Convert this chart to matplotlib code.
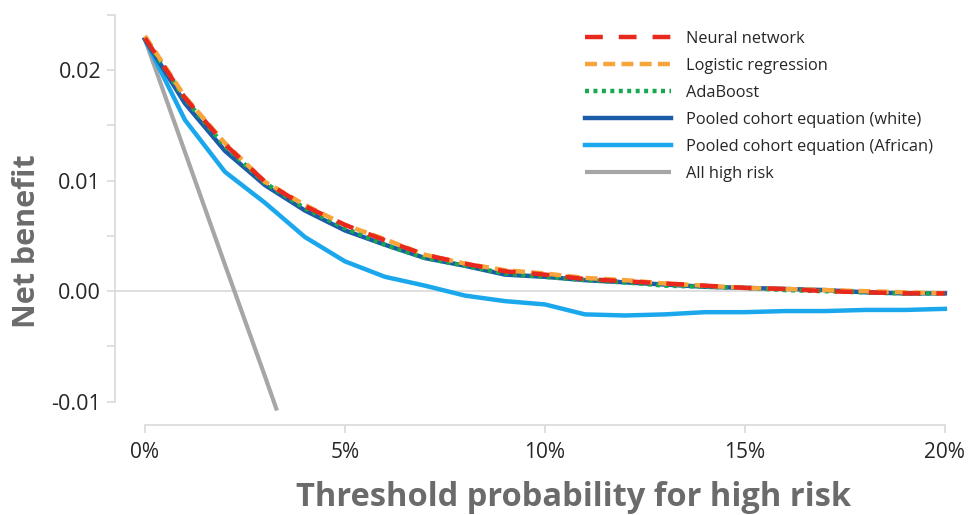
import matplotlib
matplotlib.use("Agg")
import matplotlib.pyplot as plt
from matplotlib.ticker import FuncFormatter, MultipleLocator

thresholds = [0.00, 0.01, 0.02, 0.03, 0.04, 0.05, 0.06, 0.07, 0.08, 0.09, 0.10,
              0.11, 0.12, 0.13, 0.14, 0.15, 0.16, 0.17, 0.18, 0.19, 0.20]

neural_network = [0.0229, 0.0175, 0.0133, 0.0099, 0.0077, 0.0060, 0.0046, 0.0033, 0.0025, 0.0018, 0.0015,
                  0.0011, 0.0009, 0.0007, 0.0005, 0.0003, 0.0002, 0.0000, -0.0001, -0.0002, -0.0002]
logistic_regression = [0.0231, 0.0176, 0.0134, 0.0099, 0.0078, 0.0060, 0.0047, 0.0033, 0.0025, 0.0019, 0.0016,
                       0.0012, 0.0010, 0.0007, 0.0005, 0.0003, 0.0002, 0.0001, 0.0000, -0.0001, -0.0002]
adaboost = [0.0229, 0.0174, 0.0131, 0.0098, 0.0075, 0.0057, 0.0042, 0.0030, 0.0023, 0.0016, 0.0013,
            0.0010, 0.0008, 0.0005, 0.0004, 0.0003, 0.0001, 0.0000, -0.0001, -0.0002, -0.0002]
pce_white = [0.0228, 0.0170, 0.0127, 0.0096, 0.0073, 0.0055, 0.0042, 0.0030, 0.0023, 0.0015, 0.0013,
             0.0010, 0.0008, 0.0006, 0.0004, 0.0003, 0.0002, 0.0001, -0.0001, -0.0002, -0.0002]
pce_african = [0.0228, 0.0155, 0.0108, 0.0080, 0.0049, 0.0027, 0.0013, 0.0005, -0.0004, -0.0009, -0.0012,
               -0.0021, -0.0022, -0.0021, -0.0019, -0.0019, -0.0018, -0.0018, -0.0017, -0.0017, -0.0016]

all_high_risk_x = [0.00, 0.01, 0.02, 0.03, 0.033]
all_high_risk_y = [0.0228, 0.0126, 0.0024, -0.0077, -0.0108]

series_labels = ["Neural network", "Logistic regression", "AdaBoost",
                 "Pooled cohort equation (white)", "Pooled cohort equation (African)",
                 "All high risk"]

x_ticks = [0.00, 0.05, 0.10, 0.15, 0.20]
y_ticks = [-0.01, 0.00, 0.01, 0.02]

plt.rcParams['font.family'] = ['Open Sans', 'DejaVu Sans']

fig = plt.figure(figsize=(9.74, 5.15), dpi=100)
ax = fig.add_axes([0.118, 0.175, 0.855, 0.796])

ax.axhline(0, color='#d9d9d9', lw=1.2, zorder=1)

l_gray, = ax.plot(all_high_risk_x, all_high_risk_y, color='#a6a6a6', lw=3, zorder=2,
                  solid_capstyle='butt')
l_af, = ax.plot(thresholds, pce_african, color='#1aa7ec', lw=3.2, zorder=3)
l_wh, = ax.plot(thresholds, pce_white, color='#1b5ca8', lw=3.2, zorder=4)
l_ada, = ax.plot(thresholds, adaboost, color='#17a850', lw=3.2, ls=(0, (0.9, 1.0)), zorder=5)
l_lr, = ax.plot(thresholds, logistic_regression, color='#f8a43a', lw=3.2, ls=(0, (2.7, 1.4)), zorder=6)
l_nn, = ax.plot(thresholds, neural_network, color='#e8281c', lw=3.2, ls=(0, (4.0, 3.6)), zorder=7)

ax.set_xlim(-0.0075, 0.2007)
ax.set_ylim(-0.0121, 0.025)

for s in ['top', 'right']:
    ax.spines[s].set_visible(False)
for s in ['left', 'bottom']:
    ax.spines[s].set_color('#d9d9d9')
    ax.spines[s].set_linewidth(1.2)
ax.spines['left'].set_bounds(-0.01, 0.025)
ax.spines['bottom'].set_bounds(0, 0.20)

ax.set_xticks(x_ticks)
ax.xaxis.set_major_formatter(FuncFormatter(lambda v, p: f"{v*100:.0f}%"))
ax.set_yticks(y_ticks)
ax.yaxis.set_minor_locator(MultipleLocator(0.005))
ax.yaxis.set_major_formatter(FuncFormatter(lambda v, p: f"{v:.2f}"))

ax.tick_params(axis='x', direction='out', length=6, color='#d9d9d9', width=1.2,
               labelsize=15, labelcolor='#262626', pad=6)
ax.tick_params(axis='y', which='both', direction='out', length=6, color='#d9d9d9', width=1.2,
               labelsize=15.5, labelcolor='#262626', pad=4)

ax.set_xlabel("Threshold probability for high risk", fontsize=23.5, fontweight='bold',
              color='#6b6b6b')
ax.xaxis.set_label_coords(0.551, -0.136)
ax.set_ylabel("Net benefit", fontsize=22, fontweight='bold', color='#6b6b6b')
ax.yaxis.set_label_coords(-0.088, 0.449)

handles = [l_nn, l_lr, l_ada, l_wh, l_af, l_gray]
leg = ax.legend(handles, series_labels, loc='upper left', bbox_to_anchor=(0.564, 0.962),
                frameon=False, fontsize=11.8, handlelength=5.3, labelspacing=0.68,
                handletextpad=0.9, borderpad=0, borderaxespad=0, labelcolor='#262626')

fig.savefig("out.png", dpi=100)
